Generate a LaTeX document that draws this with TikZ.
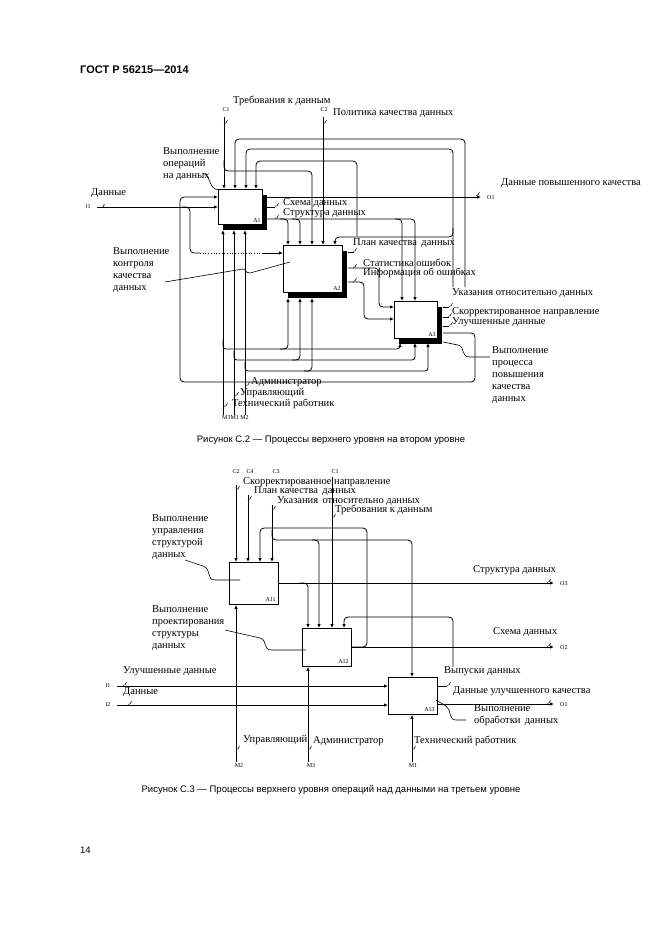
\documentclass[tikz,border=0pt]{standalone}
\usepackage{fontspec}
\setmainfont{Liberation Serif}
\newfontfamily\capfont{Liberation Sans}
\usetikzlibrary{arrows.meta, shadows, calc}

\tikzset{
  lbl/.style={font=\fontsize{10.5}{12}\selectfont, inner sep=0pt, anchor=west},
  nm/.style={font=\fontsize{10.5}{12}\selectfont, inner sep=0pt, anchor=north west, align=left},
  idx/.style={font=\fontsize{6}{6}\selectfont, inner sep=0pt},
  capt/.style={font=\capfont\fontsize{9.5}{11}\selectfont, inner sep=0pt},
  blk/.style={draw, fill=white, line width=0.9pt, inner sep=0pt, anchor=north west},
  shd/.style={blk, drop shadow={shadow xshift=5pt, shadow yshift=-6pt, fill=black, opacity=1}},
  ln/.style={line width=0.8pt, rounded corners=4pt},
  arr/.style={ln, -{Latex[length=4pt, width=3.5pt]}},
  squig/.pic={\draw[line width=0.5pt, rounded corners=0pt] (-2,1.5) .. controls (0,2) and (0.5,0) .. (1.5,-2);}
}

\begin{document}
\begin{tikzpicture}[x=1pt, y=-1pt]
\useasboundingbox (0,0) rectangle (661,935);
\fill[white] (0,0) rectangle (661,935);

\node[font=\capfont\bfseries\fontsize{11}{13}\selectfont, anchor=west, inner sep=0pt] (hdr) at (80,70) {ГОСТ Р 56215—2014};

% ---------- Figure C.2 ----------
% blocks
\node[shd, minimum width=44, minimum height=35] (A1) at (218,189) {};
\node[shd, minimum width=59, minimum height=47] (A2) at (283,245) {};
\node[shd, minimum width=43, minimum height=37] (A3) at (394,301) {};
\node[idx, anchor=south east] at ([shift={(-2,-2)}]A1.south east) {A1};
\node[idx, anchor=south east] at ([shift={(-2,-2)}]A2.south east) {A2};
\node[idx, anchor=south east] at ([shift={(-2,-2)}]A3.south east) {A3};

% controls
\node[idx] (c1) at (226,110) {C1};
\node[lbl] (req) at (233,101) {Требования к данным};
\node[idx] (c2) at (324,110) {C2};
\node[lbl] (pol) at (333,113) {Политика качества данных};
\draw[arr] (224,117) -- (224,0 |- A1.north);
\draw[arr] (224,160) -- (224,171) -- (312,171) -- (312,0 |- A2.north);
\draw[arr] (323,117) -- (323,0 |- A2.north);
\pic at (226,122) {squig};
\pic at (325,122) {squig};
\draw[arr] (465,287) -- (465,139) -- (235,139) -- (235,0 |- A1.north);
\draw[arr] (453,287) -- (453,149) -- (246,149) -- (246,0 |- A1.north);
\draw[arr] (453,228) -- (453,237) -- (335,237) -- (335,0 |- A2.north);
\draw[arr] (357,236) -- (357,161) -- (256,161) -- (256,0 |- A1.north);

% inputs
\node[lbl] (din) at (91,193) {Данные};
\node[idx] (i1) at (88,207) {I1};
\draw[arr] (97,207) -- (A1.west |- 0,207);
\pic at (103,206) {squig};
\draw[ln] (182,207) -- (190,207) -- (190,253) -- (200,253);
\draw[line width=0.7pt, dotted] (200,253) -- (262,253);
\draw[arr] (262,253) -- (A2.west |- 0,253);
\draw[arr] (443,333) -- (475,333) -- (475,382) -- (180,382) -- (180,197) -- (A1.west |- 0,197);

% outputs of A1
\draw[arr] (267,197) -- (481,197);
\node[idx, anchor=west] (o1) at (487,198) {O1};
\pic at (478,194) {squig};
\node[lbl] (hq) at (501,183) {Данные повышенного качества};
\draw[ln] (267,207) -- (275,207);
\pic at (277,205) {squig};
\node[lbl] (sch) at (283,203) {Схема данных};
\pic at (277,217) {squig};
\node[lbl] (str) at (283,213) {Структура данных};
\draw[arr] (267,219) -- (288,219) -- (288,0 |- A2.north);
\draw[arr] (292,219) -- (300,219) -- (300,0 |- A2.north);
\draw[arr] (280,219) -- (415,219) -- (415,0 |- A3.north);
\draw[arr] (395,219) -- (402,219) -- (402,0 |- A3.north);

% outputs of A2
\draw[ln] (348,252) -- (354,252);
\pic at (355,250) {squig};
\node[lbl] (plan) at (353,243) {План качества\, данных};
\draw[arr] (348,268) -- (379,268) -- (379,307) -- (A3.west |- 0,307);
\draw[arr] (348,282) -- (364,282) -- (364,319) -- (A3.west |- 0,319);
\pic at (355,266) {squig};
\pic at (355,280) {squig};
\node[lbl] (stat) at (363,263) {Статистика ошибок};
\node[lbl] (info) at (363,273) {Информация об ошибках};

% outputs of A3
\draw[ln] (443,307) -- (449,307);
\draw[ln] (443,317) -- (449,317);
\draw[ln] (443,326) -- (449,326);
\pic at (451,305) {squig};
\pic at (450,315) {squig};
\pic at (451,324) {squig};
\node[lbl] (ind) at (452,293) {Указания относительно данных};
\node[lbl] (cor) at (452,312) {Скорректированное направление};
\node[lbl] (imp) at (452,322) {Улучшенные данные};

% mechanisms
\draw[arr] (223,415) -- (223,230);
\draw[arr] (234,415) -- (234,230);
\draw[arr] (245,415) -- (245,230);
\draw[arr, rounded corners=3pt] (223,340) -- (223,349) -- (400,349) -- (400,343);
\draw[arr, rounded corners=3pt] (234,351) -- (234,360) -- (415,360) -- (415,343);
\draw[arr, rounded corners=3pt] (245,362) -- (245,371) -- (428,371) -- (428,343);
\draw[arr] (280,349) -- (288,349) -- (288,298);
\draw[arr] (292,360) -- (300,360) -- (300,298);
\draw[arr] (304,371) -- (312,371) -- (312,298);
\pic at (248,384) {squig};
\pic at (237,394) {squig};
\pic at (226,405) {squig};
\node[lbl] (adm) at (251,382) {Администратор};
\node[lbl] (mgr) at (240,393) {Управляющий};
\node[lbl] (tech) at (232,404) {Технический работник};
\node[idx, anchor=west] (mm) at (222,418) {M3M1 M2};

% activity names
\node[nm] (n1) at (163,147) {Выполнение\\операций\\на данных};
\draw[line width=0.6pt] (203,173) .. controls (212,177) and (208,189) .. (219,190);
\node[nm] (n2) at (113,247) {Выполнение\\контроля\\качества\\данных};
\draw[line width=0.6pt] (165,282) -- (243,269) .. controls (246,269) and (245,273) .. (250,273) -- (290,262);
\node[nm] (n3) at (492,346) {Выполнение\\процесса\\повышения\\качества\\данных};
\draw[line width=0.6pt] (443,342) -- (458,345) .. controls (466,347) and (460,357) .. (470,357) -- (490,357);

\node[capt] (cap1) at (331,440) {Рисунок С.2 — Процессы верхнего уровня на втором уровне};

% ---------- Figure C.3 ----------
\node[blk, minimum width=49, minimum height=42] (A11) at (229,562) {};
\node[blk, minimum width=49, minimum height=38] (A12) at (302,628) {};
\node[blk, minimum width=49, minimum height=37] (A13) at (388,677) {};
\node[idx, anchor=south east] at ([shift={(-3,-3)}]A11.south east) {A11};
\node[idx, anchor=south east] at ([shift={(-3,-3)}]A12.south east) {A12};
\node[idx, anchor=south east] at ([shift={(-3,-3)}]A13.south east) {A13};

% controls
\node[idx] (k2) at (236,472) {C2};
\node[idx] (k4) at (250,472) {C4};
\node[idx] (k3) at (276,472) {C3};
\node[idx] (k1) at (335,472) {C1};
\node[lbl] (kcor) at (243,482) {Скорректированное направление};
\node[lbl] (kplan) at (254,491) {План качества\, данных};
\node[lbl] (kind) at (277,501) {Указания\, относительно данных};
\node[lbl] (kreq) at (335,510) {Требования к данным};
\draw[arr] (236,485) -- (236,0 |- A11.north);
\draw[arr] (248,495) -- (248,0 |- A11.north);
\draw[arr] (272,505) -- (272,0 |- A11.north);
\draw[arr] (332,477) -- (332,0 |- A12.north);
\pic at (238,488) {squig};
\pic at (250,498) {squig};
\pic at (274,508) {squig};
\pic at (334,516) {squig};
\draw[arr] (272,530) -- (272,540) -- (412,540) -- (412,0 |- A13.north);
\draw[arr] (312,540) -- (319,540) -- (319,0 |- A12.north);
\draw[arr] (A12.east |- 0,647) -- (367,647) -- (367,528) -- (260,528) -- (260,0 |- A11.north);
\draw[arr] (453,667) -- (453,617) -- (344,617) -- (344,0 |- A12.north);

% outputs
\draw[arr] (A11.east |- 0,583) -- (554,583);
\draw[arr] (300,583) -- (308,583) -- (308,0 |- A12.north);
\draw[arr] (A12.east |- 0,647) -- (554,647);
\draw[arr] (A13.east |- 0,704) -- (554,704);
\draw[ln] (A13.east |- 0,686) -- (447,686);
\pic at (549,581) {squig};
\pic at (549,645) {squig};
\pic at (549,702) {squig};
\pic at (449,684) {squig};
\node[lbl] (ostr) at (473,570) {Структура данных};
\node[idx, anchor=west] (o3) at (560,584) {O3};
\node[lbl] (osch) at (493,632) {Схема данных};
\node[idx, anchor=west] (o2) at (560,648) {O2};
\node[lbl] (orel) at (444,671) {Выпуски данных};
\node[lbl] (oimp) at (453,691) {Данные улучшенного качества};
\node[idx, anchor=west] (o1b) at (560,705) {O1};

% inputs
\node[lbl] (iimp) at (123,671) {Улучшенные данные};
\node[idx] (i1b) at (108,686) {I1};
\draw[arr] (117,686) -- (A13.west |- 0,686);
\pic at (125,684) {squig};
\node[lbl] (idat) at (123,692) {Данные};
\node[idx] (i2b) at (108,705) {I2};
\draw[arr] (117,705) -- (A13.west |- 0,705);
\pic at (130,703) {squig};

% mechanisms
\draw[arr] (236,762) -- (236,0 |- A11.south);
\draw[arr] (308,762) -- (308,0 |- A12.south);
\draw[arr] (412,762) -- (412,0 |- A13.south);
\pic at (238,748) {squig};
\pic at (310,748) {squig};
\pic at (414,748) {squig};
\node[lbl] (bmgr) at (243,740) {Управляющий};
\node[lbl] (badm) at (313,741) {Администратор};
\node[lbl] (btech) at (414,741) {Технический работник};
\node[idx] (m2) at (239,766) {M2};
\node[idx] (m3) at (311,766) {M3};
\node[idx] (m1) at (413,766) {M1};

% activity names
\node[nm] (p1) at (152,514) {Выполнение\\управления\\структурой\\данных};
\draw[line width=0.6pt] (185,560) -- (203,566) .. controls (212,569) and (206,580) .. (215,580) -- (240,580);
\node[nm] (p2) at (152,605) {Выполнение\\проектирования\\структуры\\данных};
\draw[line width=0.6pt] (225,630) -- (260,638) .. controls (268,640) and (262,650) .. (272,650) -- (306,650);
\node[nm] (p3) at (474,704) {Выполнение\\обработки\, данных};
\draw[line width=0.6pt] (436,700) -- (446,706) .. controls (452,710) and (448,720) .. (456,720) -- (466,720);

\node[capt] (cap2) at (331,790) {Рисунок С.3 — Процессы верхнего уровня операций над данными на третьем уровне};
\node[capt, anchor=west] (pg) at (80,850) {14};
\end{tikzpicture}
\end{document}
